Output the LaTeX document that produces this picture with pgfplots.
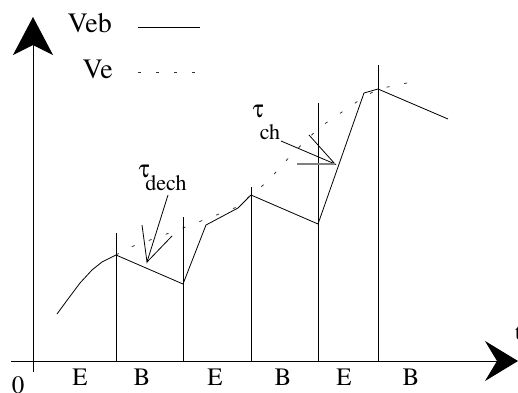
\documentclass[border=0pt]{standalone}
\usepackage{pgfplots}
\pgfplotsset{compat=1.18}
\usepackage[Symbol]{upgreek}
\usepackage{fontspec}
\setmainfont{texgyretermes-regular.otf}
\usetikzlibrary{arrows.meta}
\begin{document}
\begin{tikzpicture}
\begin{axis}[name=ax, hide axis, scale only axis, width=518pt, height=392pt,
  xmin=-33, xmax=485, ymin=-31, ymax=361, clip=false]
% Veb (solid)
\addplot[black, line width=0.8pt] coordinates {
 (24,47) (35,62) (47,78) (59,91) (69,99) (83,106) (150,77) (173,136)
 (205,153) (218,166) (285,137) (331,268) (345,272) (415,242)};
% Ve (dashed)
\addplot[black!80, line width=0.8pt, dash pattern=on 3pt off 15pt] coordinates {
 (83,106) (95,113) (150,133) (204,154) (218,166) (234,179) (260,208)
 (287,234) (331,264) (345,272) (374,278)};
% phase boundaries
\addplot[black, line width=0.8pt, ycomb] coordinates {
 (83,128) (150,144) (218,174) (285,258) (345,296)};
% legend
\node[font=\fontsize{28}{30}\selectfont, inner sep=0pt, anchor=base east] at (axis cs:79,329) {Veb};
\draw[black, line width=0.8pt] (axis cs:105,334) -- (axis cs:167,334);
\node[font=\fontsize{28}{30}\selectfont, inner sep=0pt, anchor=base east] at (axis cs:80,283) {Ve};
\draw[black!80, line width=0.8pt, dash pattern=on 3pt off 15pt] (axis cs:105,289) -- (axis cs:170,289);
% axes
\draw[line width=1pt, -{Stealth[length=38pt,width=40pt,inset=10pt]}] (axis cs:0,-11) -- (axis cs:0,344);
\draw[line width=1pt, -{Stealth[length=33pt,width=40pt,inset=12pt]}] (axis cs:-22,0) -- (axis cs:485,0);
% labels
\node[font=\fontsize{25}{30}\selectfont, inner sep=0pt] at (axis cs:-15,-24) {0};
\node[font=\fontsize{22}{26}\selectfont, inner sep=0pt, anchor=west] at (axis cs:482,28) {t};
\foreach \xx/\tt in {47/E,109/B,182/E,250/B,311/E,378/B}{
  \edef\tmp{\noexpand\node[font=\noexpand\fontsize{25}{30}\noexpand\selectfont, inner sep=0pt] at (axis cs:\xx,-16) {\tt};}\tmp
}
% tau dech
\node[font=\fontsize{25}{30}\selectfont, inner sep=0pt] at (axis cs:111,190) {$\uptau$};
\node[font=\fontsize{22}{26}\selectfont, inner sep=0pt] at (axis cs:133,177.5) {dech};
\draw[line width=0.8pt] (axis cs:135,166) -- (axis cs:114,99) -- (axis cs:109,136);
\draw[line width=0.8pt] (axis cs:114,99) -- (axis cs:139,125);
% tau ch
\node[font=\fontsize{25}{30}\selectfont, inner sep=0pt] at (axis cs:225,250) {$\uptau$};
\node[font=\fontsize{22}{26}\selectfont, inner sep=0pt] at (axis cs:237,229) {ch};
\draw[line width=0.8pt] (axis cs:248,220) -- (axis cs:302,197) -- (axis cs:276,226);
\draw[gray, line width=1.5pt] (axis cs:264,197) -- (axis cs:302,197);
\end{axis}
\pgfresetboundingbox
\path[use as bounding box] (ax.south west) rectangle (ax.north east);
\end{tikzpicture}
\end{document}
